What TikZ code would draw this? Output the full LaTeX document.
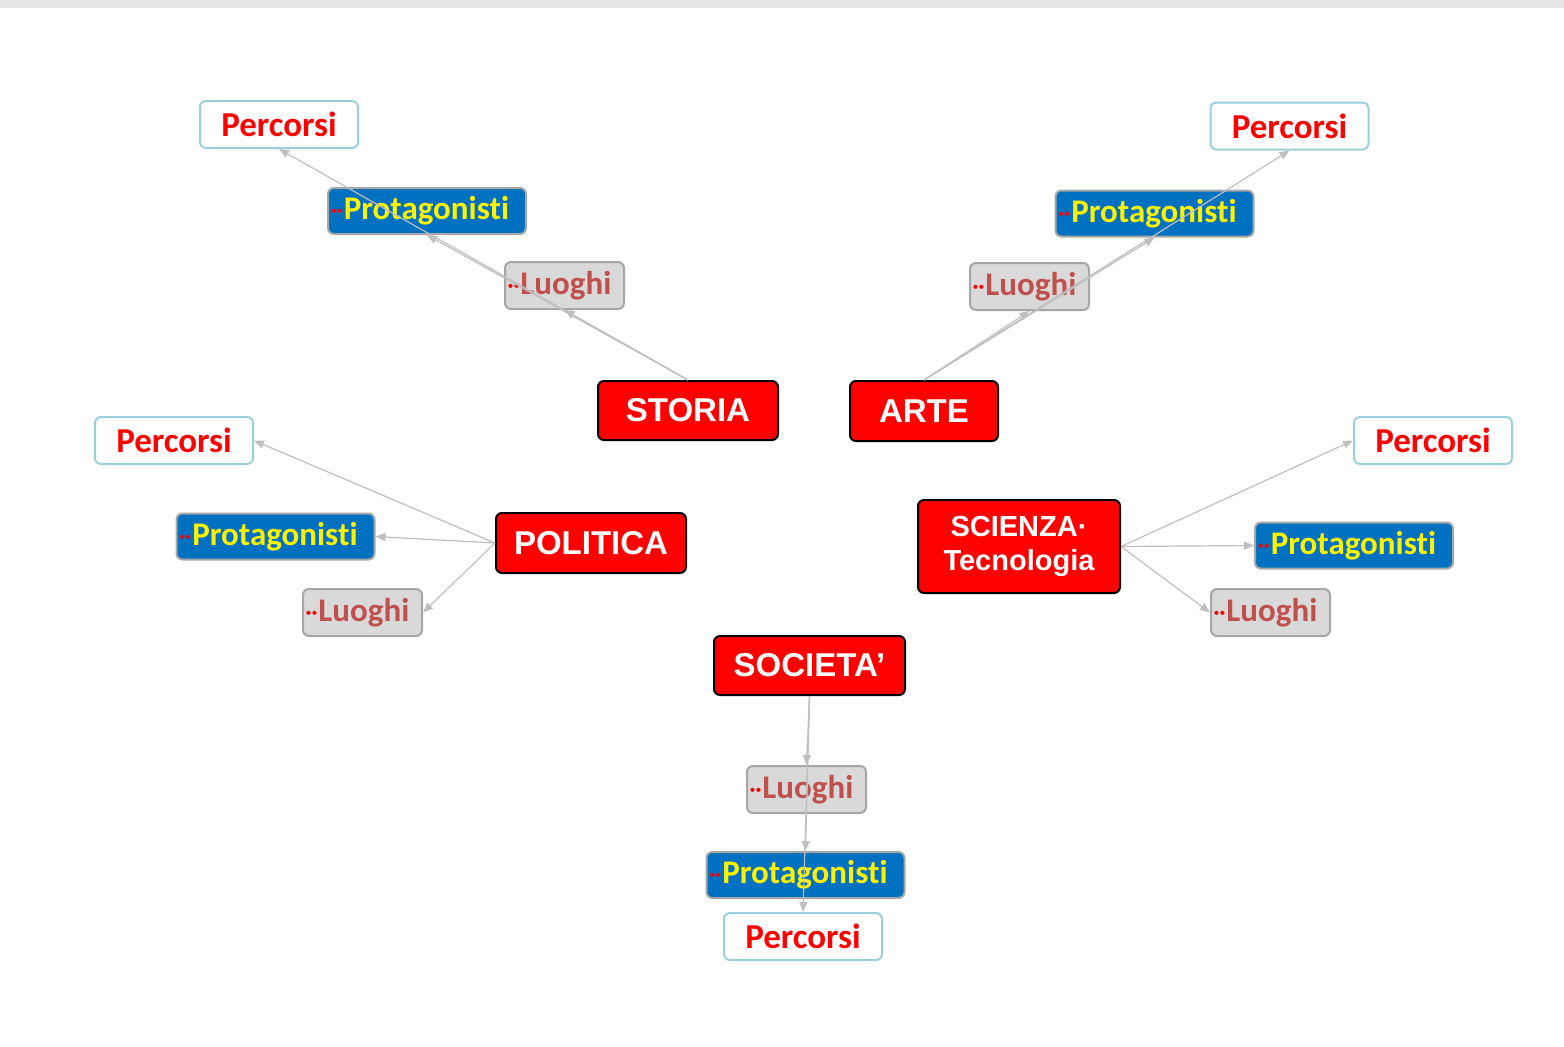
\documentclass[tikz,border=0pt]{standalone}
\usepackage{fontspec}
\setmainfont[Ligatures=NoCommon]{Carlito}
\newfontfamily\centrefont{Liberation Sans}
\usetikzlibrary{arrows.meta}
\definecolor{boxred}{HTML}{FF0000}
\definecolor{boxblue}{HTML}{0070C0}
\definecolor{boxgray}{HTML}{D9D9D9}
\definecolor{edgegray}{HTML}{A6A6A6}
\definecolor{edgecyan}{HTML}{9CCFDD}
\definecolor{luoghired}{HTML}{C0504D}
\definecolor{linkgray}{HTML}{BFBFBF}
\newcommand{\reddots}{{\color{red}\fontsize{11}{11}\selectfont\raisebox{0.2ex}{··}}\hspace{0.5pt}}
\begin{document}
\begin{tikzpicture}[x=0.5pt, y=-0.5pt,
  topic/.style={draw=black, line width=1pt, fill=boxred, rounded corners=3pt, inner sep=0pt,
    text=white, font=\centrefont\bfseries\fontsize{16.5}{17.5}\selectfont, align=center},
  percorsi/.style={draw=edgecyan, line width=1pt, fill=white, rounded corners=3pt, inner sep=0pt,
    minimum width=79pt, minimum height=23.5pt, text=boxred, font=\bfseries\fontsize{17.5}{18}\selectfont},
  protag/.style={draw=edgegray, line width=1pt, fill=boxblue, rounded corners=3pt, inner sep=0pt,
    minimum width=99pt, minimum height=23pt, text=yellow, font=\bfseries\fontsize{16.5}{17}\selectfont},
  luoghi/.style={draw=edgegray, line width=1pt, fill=boxgray, rounded corners=3pt, inner sep=0pt,
    minimum width=59.5pt, minimum height=23.5pt, text=luoghired, font=\bfseries\fontsize{16.5}{17}\selectfont},
  link/.style={draw=linkgray, line width=0.6pt, -{Triangle[length=5pt,width=4pt]}}]
\useasboundingbox (0,0) rectangle (1564,1046);
\fill[gray!20] (0,0) rectangle (1564,8);
% STORIA
\node[topic, minimum width=90pt, minimum height=29.5pt] (st) at (688,410.5){STORIA};
\node[luoghi] (stL) at (564.5,285.5){\reddots Luoghi\kern5pt};
\node[protag] (stPr) at (427,211){\reddots Protagonisti\kern7pt};
\node[percorsi] (stPe) at (279,124.5){Percorsi};
\draw[link] (st.north) -- (stL.south);
\draw[link] (st.north) -- (stPr.south);
\draw[link] (st.north) -- (stPe.south);
% ARTE
\node[topic, minimum width=74pt, minimum height=30pt] (ar) at (924,411){ARTE};
\node[luoghi] (arL) at (1029.5,286.5){\reddots Luoghi\kern5pt};
\node[protag] (arPr) at (1154.5,213.5){\reddots Protagonisti\kern7pt};
\node[percorsi] (arPe) at (1289.5,126){Percorsi};
\draw[link] (ar.north) -- (arL.south);
\draw[link] (ar.north) -- (arPr.south);
\draw[link] (ar.north) -- (arPe.south);
% POLITICA
\node[topic, minimum width=95pt, minimum height=30pt] (po) at (591,543){POLITICA};
\node[percorsi] (poPe) at (174,440.5){Percorsi};
\node[protag] (poPr) at (275.5,536.5){\reddots Protagonisti\kern7pt};
\node[luoghi] (poL) at (362.5,612.5){\reddots Luoghi\kern5pt};
\draw[link] (po.west) -- (poPe.east);
\draw[link] (po.west) -- (poPr.east);
\draw[link] (po.west) -- (poL.east);
% SCIENZA
\node[topic, minimum width=101pt, minimum height=46.5pt, font=\centrefont\bfseries\fontsize{14.5}{17}\selectfont] (sc) at (1019,546.5){SCIENZA·\\Tecnologia};
\node[percorsi] (scPe) at (1433,440.5){Percorsi};
\node[protag] (scPr) at (1354,545.5){\reddots Protagonisti\kern7pt};
\node[luoghi] (scL) at (1270.5,612.5){\reddots Luoghi\kern5pt};
\draw[link] (sc.east) -- (scPe.west);
\draw[link] (sc.east) -- (scPr.west);
\draw[link] (sc.east) -- (scL.west);
% SOCIETA
\node[topic, minimum width=95.5pt, minimum height=29.5pt] (so) at (809.5,665.5){SOCIETA’};
\node[luoghi] (soL) at (806.5,789.5){\reddots Luoghi\kern5pt};
\node[protag] (soPr) at (805.5,875){\reddots Protagonisti\kern7pt};
\node[percorsi] (soPe) at (803,936.5){Percorsi};
\draw[link] (so.south) -- (soL.north);
\draw[link] (so.south) -- (soPr.north);
\draw[link] (so.south) -- (soPe.north);
\end{tikzpicture}
\end{document}
